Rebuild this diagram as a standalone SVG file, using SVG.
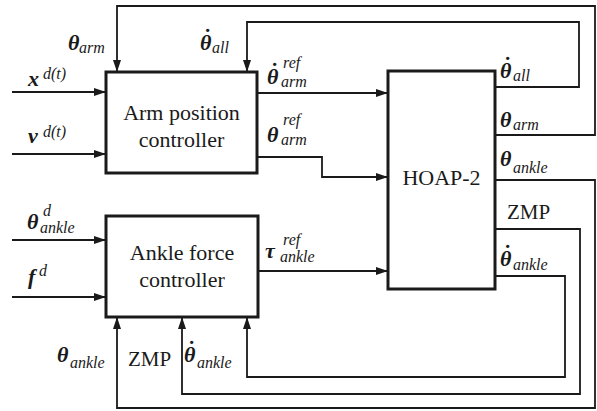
<svg xmlns="http://www.w3.org/2000/svg" width="597" height="411" viewBox="0 0 597 411">
<defs>
<style>
.box{fill:#fff;stroke:#1a1a1a;stroke-width:3}
.ln{fill:none;stroke:#1a1a1a;stroke-width:1.8}
.bt{font-size:22px;text-anchor:middle}
.rt{font-size:21px}
.g{font-size:22px;font-weight:bold;font-style:italic}
.d{font-size:22px;font-weight:bold;font-style:normal}
.s{font-size:16px;font-style:italic;font-weight:normal}
</style>
<marker id="ar" markerUnits="userSpaceOnUse" markerWidth="13" markerHeight="9" refX="12" refY="4" orient="auto">
<path d="M0,0 L12,4 L0,8 z" fill="#1a1a1a"/>
</marker>
</defs>
<rect width="597" height="411" fill="#fff"/>
<g id="connectors">
<path class="ln" d="M12,92 H106" marker-end="url(#ar)"/>
<path class="ln" d="M12,154 H106" marker-end="url(#ar)"/>
<path class="ln" d="M12,240 H106" marker-end="url(#ar)"/>
<path class="ln" d="M12,297 H106" marker-end="url(#ar)"/>
<path class="ln" d="M257,93 H388" marker-end="url(#ar)"/>
<path class="ln" d="M257,157 H322 V177 H388" marker-end="url(#ar)"/>
<path class="ln" d="M258,271 H388" marker-end="url(#ar)"/>
<path class="ln" d="M495,87 H579 V22 H247 V72" marker-end="url(#ar)"/>
<path class="ln" d="M495,135 H595 V6 H117 V72" marker-end="url(#ar)"/>
<path class="ln" d="M495,180 H595 V408 H117 V317" marker-end="url(#ar)"/>
<path class="ln" d="M495,229 H580 V394 H182 V317" marker-end="url(#ar)"/>
<path class="ln" d="M495,276 H565 V377 H247 V317" marker-end="url(#ar)"/>
</g>
<g id="labels" font-family="Liberation Serif, serif" fill="#1a1a1a">
<text><tspan class="g" x="68" y="50">θ</tspan><tspan class="s" x="79" y="53">arm</tspan></text>
<text><tspan class="d" x="204" y="44">˙</tspan><tspan class="g" x="200" y="50">θ</tspan><tspan class="s" x="212" y="53">all</tspan></text>
<text><tspan class="g" x="28" y="86">x</tspan><tspan class="s" x="43" y="79">d(t)</tspan></text>
<text><tspan class="g" x="28" y="143">v</tspan><tspan class="s" x="43" y="137">d(t)</tspan></text>
<text><tspan class="g" x="27" y="229">θ</tspan><tspan class="s" x="43" y="216">d</tspan><tspan class="s" x="40" y="233">ankle</tspan></text>
<text><tspan class="g" x="28" y="284">f</tspan><tspan class="s" x="39" y="276">d</tspan></text>
<text><tspan class="d" x="271" y="78">˙</tspan><tspan class="g" x="267" y="84">θ</tspan><tspan class="s" x="283" y="68">ref</tspan><tspan class="s" x="281" y="87">arm</tspan></text>
<text><tspan class="g" x="267" y="142">θ</tspan><tspan class="s" x="283" y="125">ref</tspan><tspan class="s" x="281" y="145">arm</tspan></text>
<text><tspan class="g" x="265" y="258">τ</tspan><tspan class="s" x="283" y="245">ref</tspan><tspan class="s" x="280" y="262">ankle</tspan></text>
<text><tspan class="d" x="504" y="72">˙</tspan><tspan class="g" x="500" y="78">θ</tspan><tspan class="s" x="513" y="81">all</tspan></text>
<text><tspan class="g" x="500" y="127">θ</tspan><tspan class="s" x="513" y="130">arm</tspan></text>
<text><tspan class="g" x="500" y="166">θ</tspan><tspan class="s" x="513" y="173">ankle</tspan></text>
<text class="rt" x="507" y="219">ZMP</text>
<text><tspan class="d" x="504" y="260">˙</tspan><tspan class="g" x="500" y="266">θ</tspan><tspan class="s" x="513" y="270">ankle</tspan></text>
<text><tspan class="g" x="57" y="362">θ</tspan><tspan class="s" x="70" y="368">ankle</tspan></text>
<text class="rt" x="128" y="366">ZMP</text>
<text><tspan class="d" x="188" y="356">˙</tspan><tspan class="g" x="184" y="362">θ</tspan><tspan class="s" x="197" y="368">ankle</tspan></text>
</g>
<g id="arm" font-family="Liberation Serif, serif" fill="#1a1a1a">
<rect class="box" x="106" y="72" width="151" height="101"/>
<text class="bt" x="181.5" y="120">Arm position</text>
<text class="bt" x="181.5" y="147">controller</text>
</g>
<g id="ankle" font-family="Liberation Serif, serif" fill="#1a1a1a">
<rect class="box" x="106" y="216" width="152" height="101"/>
<text class="bt" x="182" y="260">Ankle force</text>
<text class="bt" x="182" y="287">controller</text>
</g>
<g id="hoap" font-family="Liberation Serif, serif" fill="#1a1a1a">
<rect class="box" x="388" y="71" width="107" height="218"/>
<text class="bt" x="441.5" y="185">HOAP-2</text>
</g>
</svg>
